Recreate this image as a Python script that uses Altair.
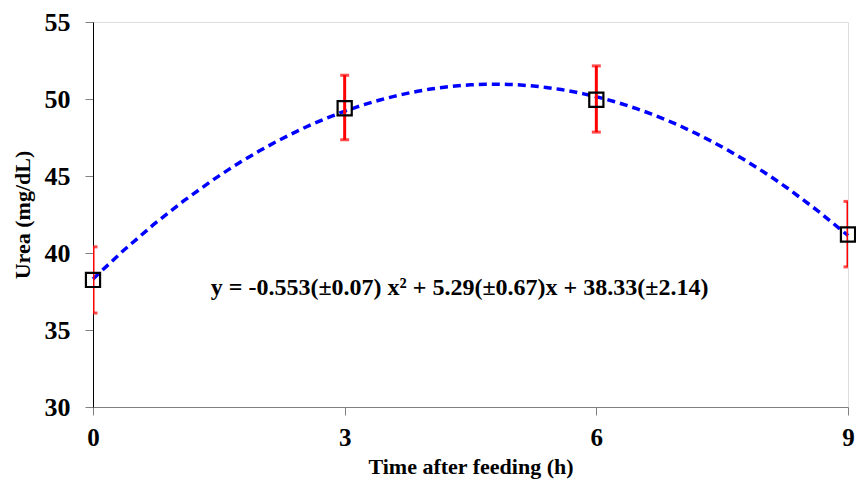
import altair as alt
import pandas as pd

hours = [0, 3, 6, 9]
urea = [38.25, 49.4, 49.95, 41.2]
err_low = [36.1, 47.35, 47.85, 39.1]
err_high = [40.4, 51.55, 52.15, 43.35]
x_ticks = [0, 3, 6, 9]
y_ticks = [30, 35, 40, 45, 50, 55]
equation = "y = -0.553(±0.07) x² + 5.29(±0.67)x + 38.33(±2.14)"
eq_pos = {"x": 4.37, "y": 37.75}

df = pd.DataFrame({"t": hours, "urea": urea, "lo": err_low, "hi": err_high})
FONT = "Liberation Serif"

xscale = alt.Scale(domain=[0, 9], nice=False, zero=False)
yscale = alt.Scale(domain=[30, 55], nice=False, zero=False)

xaxis = alt.Axis(values=x_ticks, format="d", title="Time after feeding (h)", grid=False,
                 domainColor="#808080", tickColor="#808080", tickSize=8,
                 labelFont=FONT, labelFontSize=25, labelFontWeight="bold", labelColor="black",
                 labelPadding=10, titleFont=FONT, titleFontSize=22, titleFontWeight="bold",
                 titleColor="black", titlePadding=6, labelFlush=False)
yaxis = alt.Axis(values=y_ticks, format="d", title="Urea (mg/dL)", grid=False,
                 domainColor="black", tickColor="#808080", tickSize=8,
                 labelFont=FONT, labelFontSize=26, labelFontWeight="bold", labelColor="black",
                 labelPadding=15, titleFont=FONT, titleFontSize=22, titleFontWeight="bold",
                 titleColor="black", titlePadding=10, labelFlush=False)

base = alt.Chart(df)

curve = base.transform_regression("t", "urea", method="poly", order=2, extent=[0, 9]).mark_line(
    color="#0000FF", strokeWidth=3.5, strokeDash=[8, 5]
).encode(x=alt.X("t:Q", scale=xscale, axis=xaxis), y=alt.Y("urea:Q", scale=yscale, axis=yaxis))

bars = base.mark_rule(color="#FF0000", strokeWidth=3, clip=True).encode(
    x="t:Q", y="lo:Q", y2="hi:Q")
cap_lo = base.mark_tick(color="#FF0000", thickness=3, size=9, orient="horizontal", clip=True).encode(
    x="t:Q", y="lo:Q")
cap_hi = base.mark_tick(color="#FF0000", thickness=3, size=9, orient="horizontal", clip=True).encode(
    x="t:Q", y="hi:Q")

points = base.mark_point(shape="square", size=200, filled=False, color="black",
                         strokeWidth=2.2, opacity=1).encode(x="t:Q", y="urea:Q")

eq = alt.Chart(pd.DataFrame([{"x": eq_pos["x"], "y": eq_pos["y"], "label": equation}])).mark_text(
    font=FONT, fontSize=24, fontWeight="bold", color="black", align="center", baseline="middle"
).encode(x="x:Q", y="y:Q", text="label:N")

chart = alt.layer(curve, bars, cap_lo, cap_hi, points, eq).properties(
    width=755, height=385,
    autosize=alt.AutoSizeParams(type="none"),
    padding={"left": 93, "top": 22, "right": 8, "bottom": 79},
).configure_view(stroke=None).configure(background="white")

chart.save("out.html", embed_options={"renderer": "svg", "actions": False})
